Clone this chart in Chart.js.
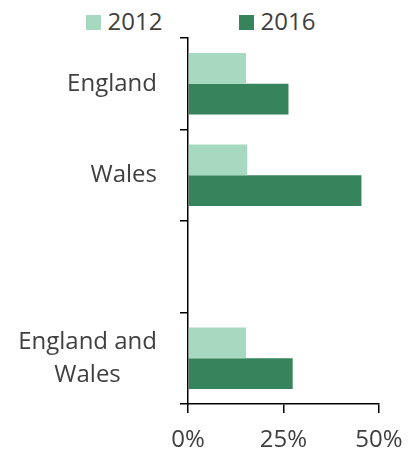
<!DOCTYPE html>
<html>
<head>
<meta charset="utf-8">
<script src="https://cdn.jsdelivr.net/npm/chart.js@4/dist/chart.umd.min.js"></script>
<style>
  body { margin: 0; background: #fff; font-family: "Open Sans", sans-serif; color: #404040; }
  #legend { position: absolute; left: 0; top: 6px; width: 401px; height: 30px; display: flex; justify-content: center; gap: 76px; font-size: 24px; line-height: 30px; }
  #legend .item { display: flex; align-items: center; }
  #legend .swatch { width: 15px; height: 15px; margin-right: 7px; margin-top: 2px; }
  #wrap { position: absolute; left: 0; top: 30px; width: 418px; height: 422px; }
</style>
</head>
<body>
<div id="legend"></div>
<div id="wrap"><canvas id="chart"></canvas></div>
<script>
const categories = ['England', 'Wales', '', ['England and', 'Wales']];
const series2012 = [15.2, 15.5, null, 15.2];
const series2016 = [26.3, 45.4, null, 27.4];
const xTicks = [0, 25, 50];

const LIGHT = '#a6d9bf';
const DARK = '#37845c';
const TEXT = '#404040';
const FONT = '"Open Sans", sans-serif';

const datasets = [
  { label: '2012', data: series2012, backgroundColor: LIGHT },
  { label: '2016', data: series2016, backgroundColor: DARK },
];

// html legend, same colours as the bars
document.getElementById('legend').innerHTML = datasets.map(d =>
  `<span class="item"><span class="swatch" style="background:${d.backgroundColor}"></span>${d.label}</span>`
).join('');

// category labels: lines of a multi-line label are centred on each other,
// the block itself is right aligned next to the axis
const yLabels = {
  id: 'yLabels',
  afterDraw(chart) {
    const s = chart.scales.y;
    const ctx = chart.ctx;
    const lineH = 33;
    const right = s.right - 31;
    ctx.save();
    ctx.font = `24px ${FONT}`;
    ctx.fillStyle = TEXT;
    ctx.textAlign = 'center';
    ctx.textBaseline = 'middle';
    categories.forEach((lab, i) => {
      const lines = [].concat(lab);
      const w = Math.max(...lines.map(l => ctx.measureText(l).width));
      const y0 = s.getPixelForValue(i) - (lines.length - 1) * lineH / 2;
      lines.forEach((l, j) => ctx.fillText(l, right - w / 2, y0 + j * lineH));
    });
    ctx.restore();
  }
};

new Chart(document.getElementById('chart'), {
  type: 'bar',
  data: {
    labels: categories.map(c => [].concat(c).join(' ')),
    datasets: datasets.map(d => ({ ...d, categoryPercentage: 0.67, barPercentage: 1, borderWidth: 0 })),
  },
  plugins: [yLabels],
  options: {
    indexAxis: 'y',
    responsive: true,
    maintainAspectRatio: false,
    animation: false,
    layout: { padding: { top: 8, right: 17, left: 0, bottom: 0 } },
    plugins: { legend: { display: false }, tooltip: { enabled: false } },
    scales: {
      x: {
        min: xTicks[0],
        max: xTicks[xTicks.length - 1],
        afterBuildTicks: (s) => { s.ticks = xTicks.map(v => ({ value: v })); },
        afterFit: (s) => { s.paddingRight = 39; s.height = 48; },
        grid: { drawOnChartArea: false, drawTicks: true, tickLength: 9, color: '#000', lineWidth: 1.5 },
        border: { color: '#000', width: 1.5 },
        ticks: { color: TEXT, padding: 13, font: { family: FONT, size: 24 }, callback: v => v + '%' },
      },
      y: {
        afterFit: (s) => { s.width = 188; },
        grid: { drawOnChartArea: false, drawTicks: true, tickLength: 8, color: '#000', lineWidth: 1.5, offset: true },
        border: { color: '#000', width: 1.5 },
        ticks: { display: false },
      },
    },
  },
});
</script>
</body>
</html>
